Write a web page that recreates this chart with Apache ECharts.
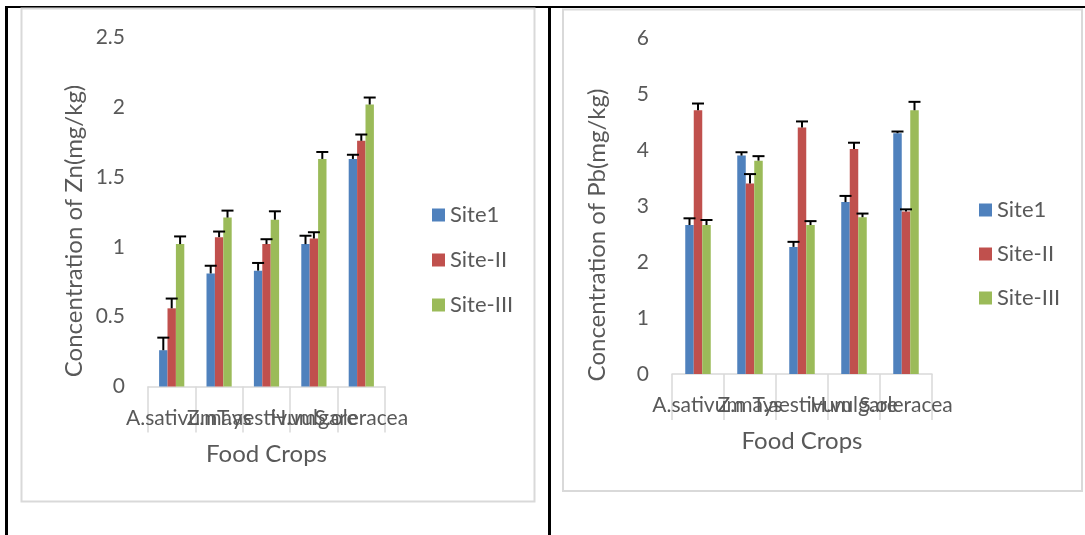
<!DOCTYPE html>
<html>
<head>
<meta charset="utf-8">
<script src="https://cdn.jsdelivr.net/npm/echarts@6/dist/echarts.min.js"></script>
<style>
html,body{margin:0;padding:0;background:#fff;}
#c{width:1085px;height:535px;}
</style>
</head>
<body>
<div id="c"></div>
<script>
// ---- data ----
var categories = ['A.sativum', 'Z.mays', 'T.aestivum', 'H.vulgare', 'S.oleracea'];
var seriesNames = ['Site1', 'Site-II', 'Site-III'];

var znSite1 = [0.26, 0.81, 0.83, 1.02, 1.63];
var znSite2 = [0.56, 1.07, 1.02, 1.06, 1.76];
var znSite3 = [1.02, 1.21, 1.195, 1.63, 2.02];
var znErr1 = [0.09, 0.055, 0.055, 0.06, 0.03];
var znErr2 = [0.07, 0.04, 0.035, 0.045, 0.045];
var znErr3 = [0.055, 0.05, 0.06, 0.05, 0.05];

var pbSite1 = [2.66, 3.90, 2.27, 3.07, 4.30];
var pbSite2 = [4.71, 3.40, 4.40, 4.02, 2.90];
var pbSite3 = [2.66, 3.81, 2.66, 2.80, 4.71];
var pbErr1 = [0.12, 0.06, 0.09, 0.11, 0.03];
var pbErr2 = [0.12, 0.17, 0.11, 0.11, 0.04];
var pbErr3 = [0.09, 0.08, 0.07, 0.065, 0.15];

var znTicks = {min: 0, max: 2.5, interval: 0.5};
var pbTicks = {min: 0, max: 6, interval: 1};

// ---- styling ----
var colors = ['#4F81BD', '#C0504D', '#9BBB59'];
var FONT = 'Lato';
var TXT = '#595959';
var GRAYLINE = '#D9D9D9';

var chart = echarts.init(document.getElementById('c'), null, {renderer: 'canvas'});

function errSeries(gridIdx, k, vals, errs, barW) {
  var data = vals.map(function (v, i) { return [i, v, errs[i]]; });
  return {
    type: 'custom',
    xAxisIndex: gridIdx, yAxisIndex: gridIdx,
    z: 10,
    encode: {x: 0, y: 1},
    silent: true,
    data: data,
    renderItem: function (params, api) {
      var c = api.value(0), v = api.value(1), e = api.value(2);
      var base = api.coord([c, v]);
      var top = api.coord([c, v + e]);
      var x = base[0] + (k - 1) * barW;
      var st = {stroke: '#000', lineWidth: 2};
      return {
        type: 'group',
        children: [
          {type: 'line', shape: {x1: x, y1: base[1], x2: x, y2: top[1]}, style: st},
          {type: 'line', shape: {x1: x - 6, y1: top[1], x2: x + 6, y2: top[1]}, style: st}
        ]
      };
    }
  };
}

function barSeries(gridIdx, k, vals, barW) {
  return {
    type: 'bar',
    name: seriesNames[k],
    xAxisIndex: gridIdx, yAxisIndex: gridIdx,
    data: vals,
    barWidth: barW,
    barGap: '0%',
    itemStyle: {color: colors[k]}
  };
}

function xAxisCfg(gridIdx, gap) {
  return {
    type: 'category', gridIndex: gridIdx, data: categories,
    name: 'Food Crops', nameLocation: 'middle', nameGap: gap,
    nameTextStyle: {fontFamily: FONT, fontSize: 24, color: TXT},
    axisLine: {lineStyle: {color: GRAYLINE, width: 1.5}},
    axisTick: {show: true, length: 46, lineStyle: {color: GRAYLINE, width: 1.5}},
    axisLabel: {interval: 0, hideOverlap: false, margin: 21, fontFamily: FONT, fontSize: 21, color: TXT},
    splitLine: {show: false}
  };
}

function yAxisCfg(gridIdx, ticks, name, gap, pad) {
  return {
    type: 'value', gridIndex: gridIdx,
    min: ticks.min, max: ticks.max, interval: ticks.interval,
    name: name, nameLocation: 'middle', nameGap: gap, nameRotate: 90,
    nameTextStyle: {fontFamily: FONT, fontSize: 24, color: TXT, padding: pad},
    axisLine: {show: false}, axisTick: {show: false},
    splitLine: {show: false},
    axisLabel: {margin: 23, fontFamily: FONT, fontSize: 21, color: TXT}
  };
}

var BW_L = 8.4, BW_R = 8.5;

var legendText = {fontFamily: FONT, fontSize: 22, color: TXT, lineHeight: 22};

var option = {
  animation: false,
  backgroundColor: '#fff',
  textStyle: {fontFamily: FONT},
  graphic: [
    {type: 'line', shape: {x1: 5, y1: 7, x2: 1085, y2: 7}, style: {stroke: '#000', lineWidth: 2}, z: 1},
    {type: 'line', shape: {x1: 6.5, y1: 6, x2: 6.5, y2: 535}, style: {stroke: '#000', lineWidth: 3}, z: 1},
    {type: 'line', shape: {x1: 549.5, y1: 6, x2: 549.5, y2: 535}, style: {stroke: '#000', lineWidth: 3}, z: 1},
    {type: 'rect', shape: {x: 21.5, y: 8.5, width: 513, height: 493}, style: {fill: null, stroke: GRAYLINE, lineWidth: 2}, z: 2},
    {type: 'rect', shape: {x: 563, y: 9.5, width: 519, height: 481.5}, style: {fill: null, stroke: GRAYLINE, lineWidth: 2}, z: 2}
  ],
  legend: [
    {orient: 'vertical', left: 427, top: 199, itemWidth: 13, itemHeight: 13, itemGap: 23,
     icon: 'rect', data: seriesNames, textStyle: legendText, selectedMode: false},
    {orient: 'vertical', left: 974, top: 194, itemWidth: 13, itemHeight: 13, itemGap: 22,
     icon: 'rect', data: seriesNames, textStyle: legendText, selectedMode: false}
  ],
  grid: [
    {left: 148, top: 37.5, width: 237, height: 349},
    {left: 672, top: 38, width: 260, height: 336}
  ],
  xAxis: [xAxisCfg(0, 56), xAxisCfg(1, 55)],
  yAxis: [
    yAxisCfg(0, znTicks, 'Concentration of Zn(mg/kg)', 62, [0, 38, 0, 0]),
    yAxisCfg(1, pbTicks, 'Concentration of Pb(mg/kg)', 63, [0, 58, 0, 0])
  ],
  series: [
    barSeries(0, 0, znSite1, BW_L),
    barSeries(0, 1, znSite2, BW_L),
    barSeries(0, 2, znSite3, BW_L),
    errSeries(0, 0, znSite1, znErr1, BW_L),
    errSeries(0, 1, znSite2, znErr2, BW_L),
    errSeries(0, 2, znSite3, znErr3, BW_L),
    barSeries(1, 0, pbSite1, BW_R),
    barSeries(1, 1, pbSite2, BW_R),
    barSeries(1, 2, pbSite3, BW_R),
    errSeries(1, 0, pbSite1, pbErr1, BW_R),
    errSeries(1, 1, pbSite2, pbErr2, BW_R),
    errSeries(1, 2, pbSite3, pbErr3, BW_R)
  ]
};
chart.setOption(option);
</script>
</body>
</html>
